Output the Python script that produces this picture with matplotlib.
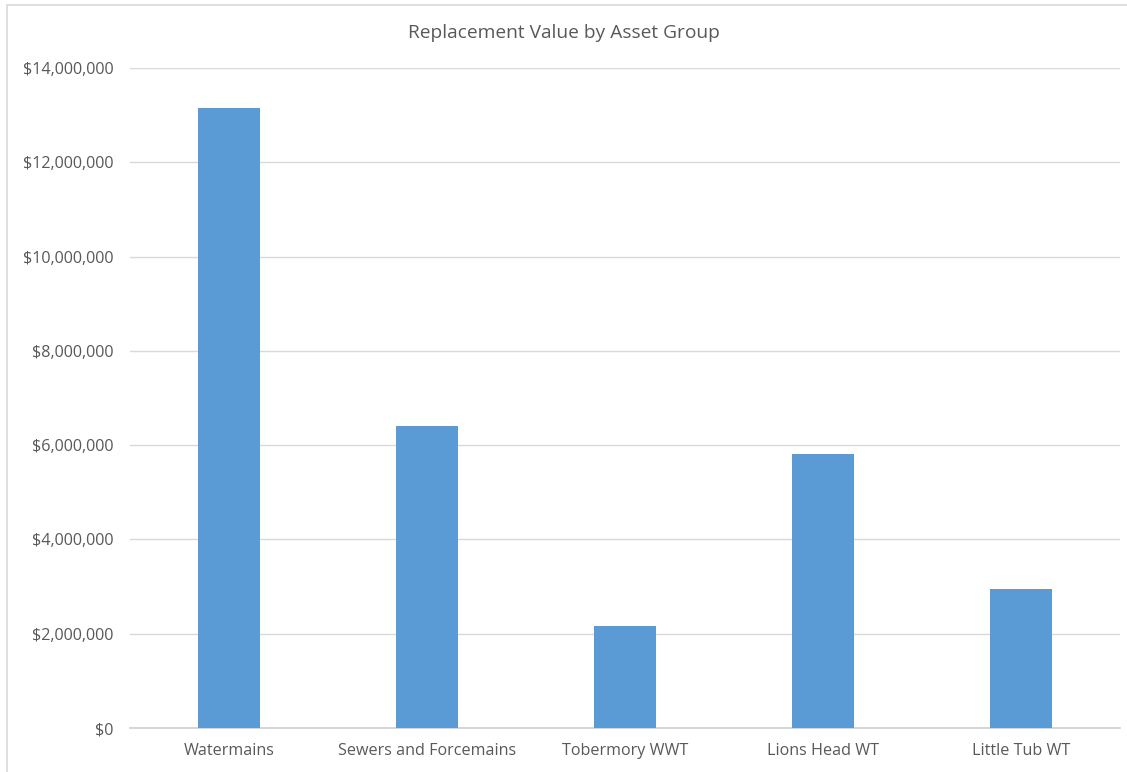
import matplotlib.pyplot as plt
from matplotlib.ticker import FuncFormatter
from matplotlib.patches import Rectangle

groups = ['Watermains', 'Sewers and Forcemains', 'Tobermory WWT', 'Lions Head WT', 'Little Tub WT']
values = [13150000, 6410000, 2170000, 5810000, 2950000]
yticks = [0, 2000000, 4000000, 6000000, 8000000, 10000000, 12000000, 14000000]

plt.rcParams['font.family'] = ['Open Sans', 'DejaVu Sans']

fig = plt.figure(figsize=(11.27, 7.72), dpi=100)
ax = fig.add_axes([130 / 1127, 44 / 772, 990 / 1127, 660 / 772])

# light frame around the whole chart area
fig.patches.append(Rectangle((7 / 1127, -0.01), 1.02, 1 - 5 / 772 + 0.01,
                             transform=fig.transFigure, fill=False,
                             edgecolor='#d9d9d9', linewidth=1.2))

ax.bar(range(len(groups)), values, width=0.31, color='#5B9BD5', zorder=3)

ax.set_xlim(-0.5, len(groups) - 0.5)
ax.set_ylim(0, 14000000)
ax.set_yticks(yticks)
ax.yaxis.set_major_formatter(FuncFormatter(lambda v, p: '${:,.0f}'.format(v)))
ax.set_xticks(range(len(groups)))
ax.set_xticklabels(groups)

ax.grid(axis='y', color='#d9d9d9', linewidth=1, zorder=0)
for s in ['top', 'right', 'left']:
    ax.spines[s].set_visible(False)
ax.spines['bottom'].set_color('#d0d0d0')
ax.spines['bottom'].set_linewidth(1.2)
ax.tick_params(length=0, labelsize=11.6, labelcolor='#595959')
ax.tick_params(axis='y', pad=12)
ax.tick_params(axis='x', pad=11)

fig.text(0.5, 1 - 33 / 772, 'Replacement Value by Asset Group', ha='center', va='center',
         fontsize=13.8, color='#595959')

fig.savefig('out.png', dpi=100)
